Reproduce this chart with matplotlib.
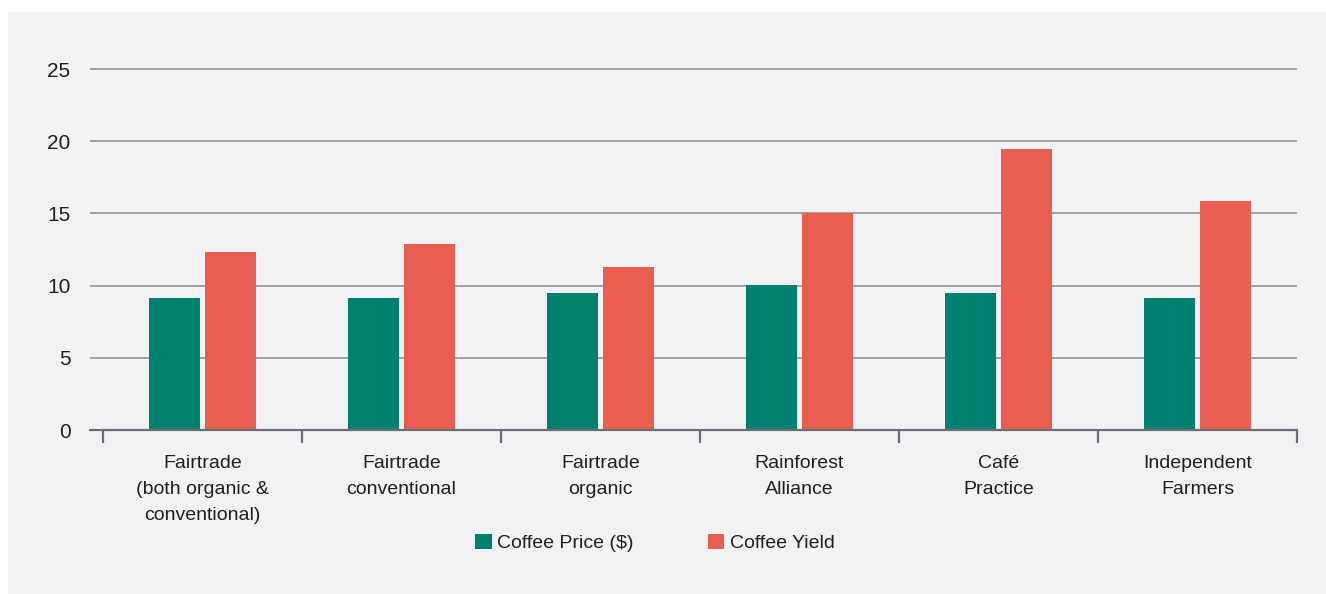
import matplotlib
matplotlib.use("Agg")
import matplotlib.pyplot as plt
from matplotlib.patches import Rectangle
import numpy as np

# data
categories = ["Fairtrade\n(both organic &\nconventional)", "Fairtrade\nconventional",
              "Fairtrade\norganic", "Rainforest\nAlliance", "Café\nPractice",
              "Independent\nFarmers"]
coffee_price = [9.15, 9.15, 9.5, 10.05, 9.5, 9.15]
coffee_yield = [12.3, 12.9, 11.3, 15.05, 19.45, 15.85]
series_names = ["Coffee Price ($)", "Coffee Yield"]
yticks = [0, 5, 10, 15, 20, 25]

green = "#00806F"
red = "#E95E50"
txt = "#231F20"

plt.rcParams['font.family'] = ['Liberation Sans', 'DejaVu Sans']
fs = 14

W, H = 1326, 594
fig = plt.figure(figsize=(W / 100, H / 100), dpi=100, facecolor="white")

# light grey panel behind the chart
fig.patches.append(Rectangle((8 / W, 0), (W - 8) / W, (H - 12) / H,
                             transform=fig.transFigure, facecolor="#F1F2F4",
                             edgecolor="none", zorder=-5))

ymax = 25.5
px_per_unit = 14.44
ax_bottom = (H - 430) / H
ax_height = ymax * px_per_unit / H
ax = fig.add_axes([90 / W, ax_bottom, (1297 - 90) / W, ax_height])
ax.set_facecolor("none")
ax.set_zorder(2)

x = np.arange(len(categories))
bw = 0.256
off = 0.139
ax.bar(x - off, coffee_price, bw, color=green, label=series_names[0], zorder=3)
ax.bar(x + off, coffee_yield, bw, color=red, label=series_names[1], zorder=3)

ax.set_xlim(-0.565, len(categories) - 0.5)
ax.set_ylim(0, ymax)

# y axis: gridlines only
ax.set_yticks(yticks)
ax.yaxis.grid(True, color="#9B9B9D", linewidth=1.3, zorder=1)
ax.tick_params(axis="y", length=0, pad=14, labelcolor=txt, labelsize=fs + 1)
for s in ["left", "right", "top"]:
    ax.spines[s].set_visible(False)
ax.spines["bottom"].set_color("#6D6E71")
ax.spines["bottom"].set_linewidth(1.6)
ax.spines["bottom"].set_zorder(4)

# x axis: ticks at group boundaries, labels at centres
ax.set_xticks(np.arange(len(categories) + 1) - 0.5)
ax.set_xticklabels([])
ax.tick_params(axis="x", which="major", length=9, width=1.6, color="#6D6E71", direction="out")
ax.set_xticks(x, minor=True)
ax.set_xticklabels(categories, minor=True)
ax.tick_params(axis="x", which="minor", length=0, pad=18, labelcolor=txt, labelsize=fs)
for lab in ax.get_xticklabels(minor=True):
    lab.set_linespacing(1.7)

leg = fig.legend(loc="center", bbox_to_anchor=(655 / W, (H - 543) / H), ncol=2,
                 frameon=False, handlelength=0.85, handleheight=0.85,
                 handletextpad=0.3, columnspacing=3.8, fontsize=fs)
for t in leg.get_texts():
    t.set_color(txt)

fig.savefig("out.png", dpi=100, facecolor=fig.get_facecolor())
